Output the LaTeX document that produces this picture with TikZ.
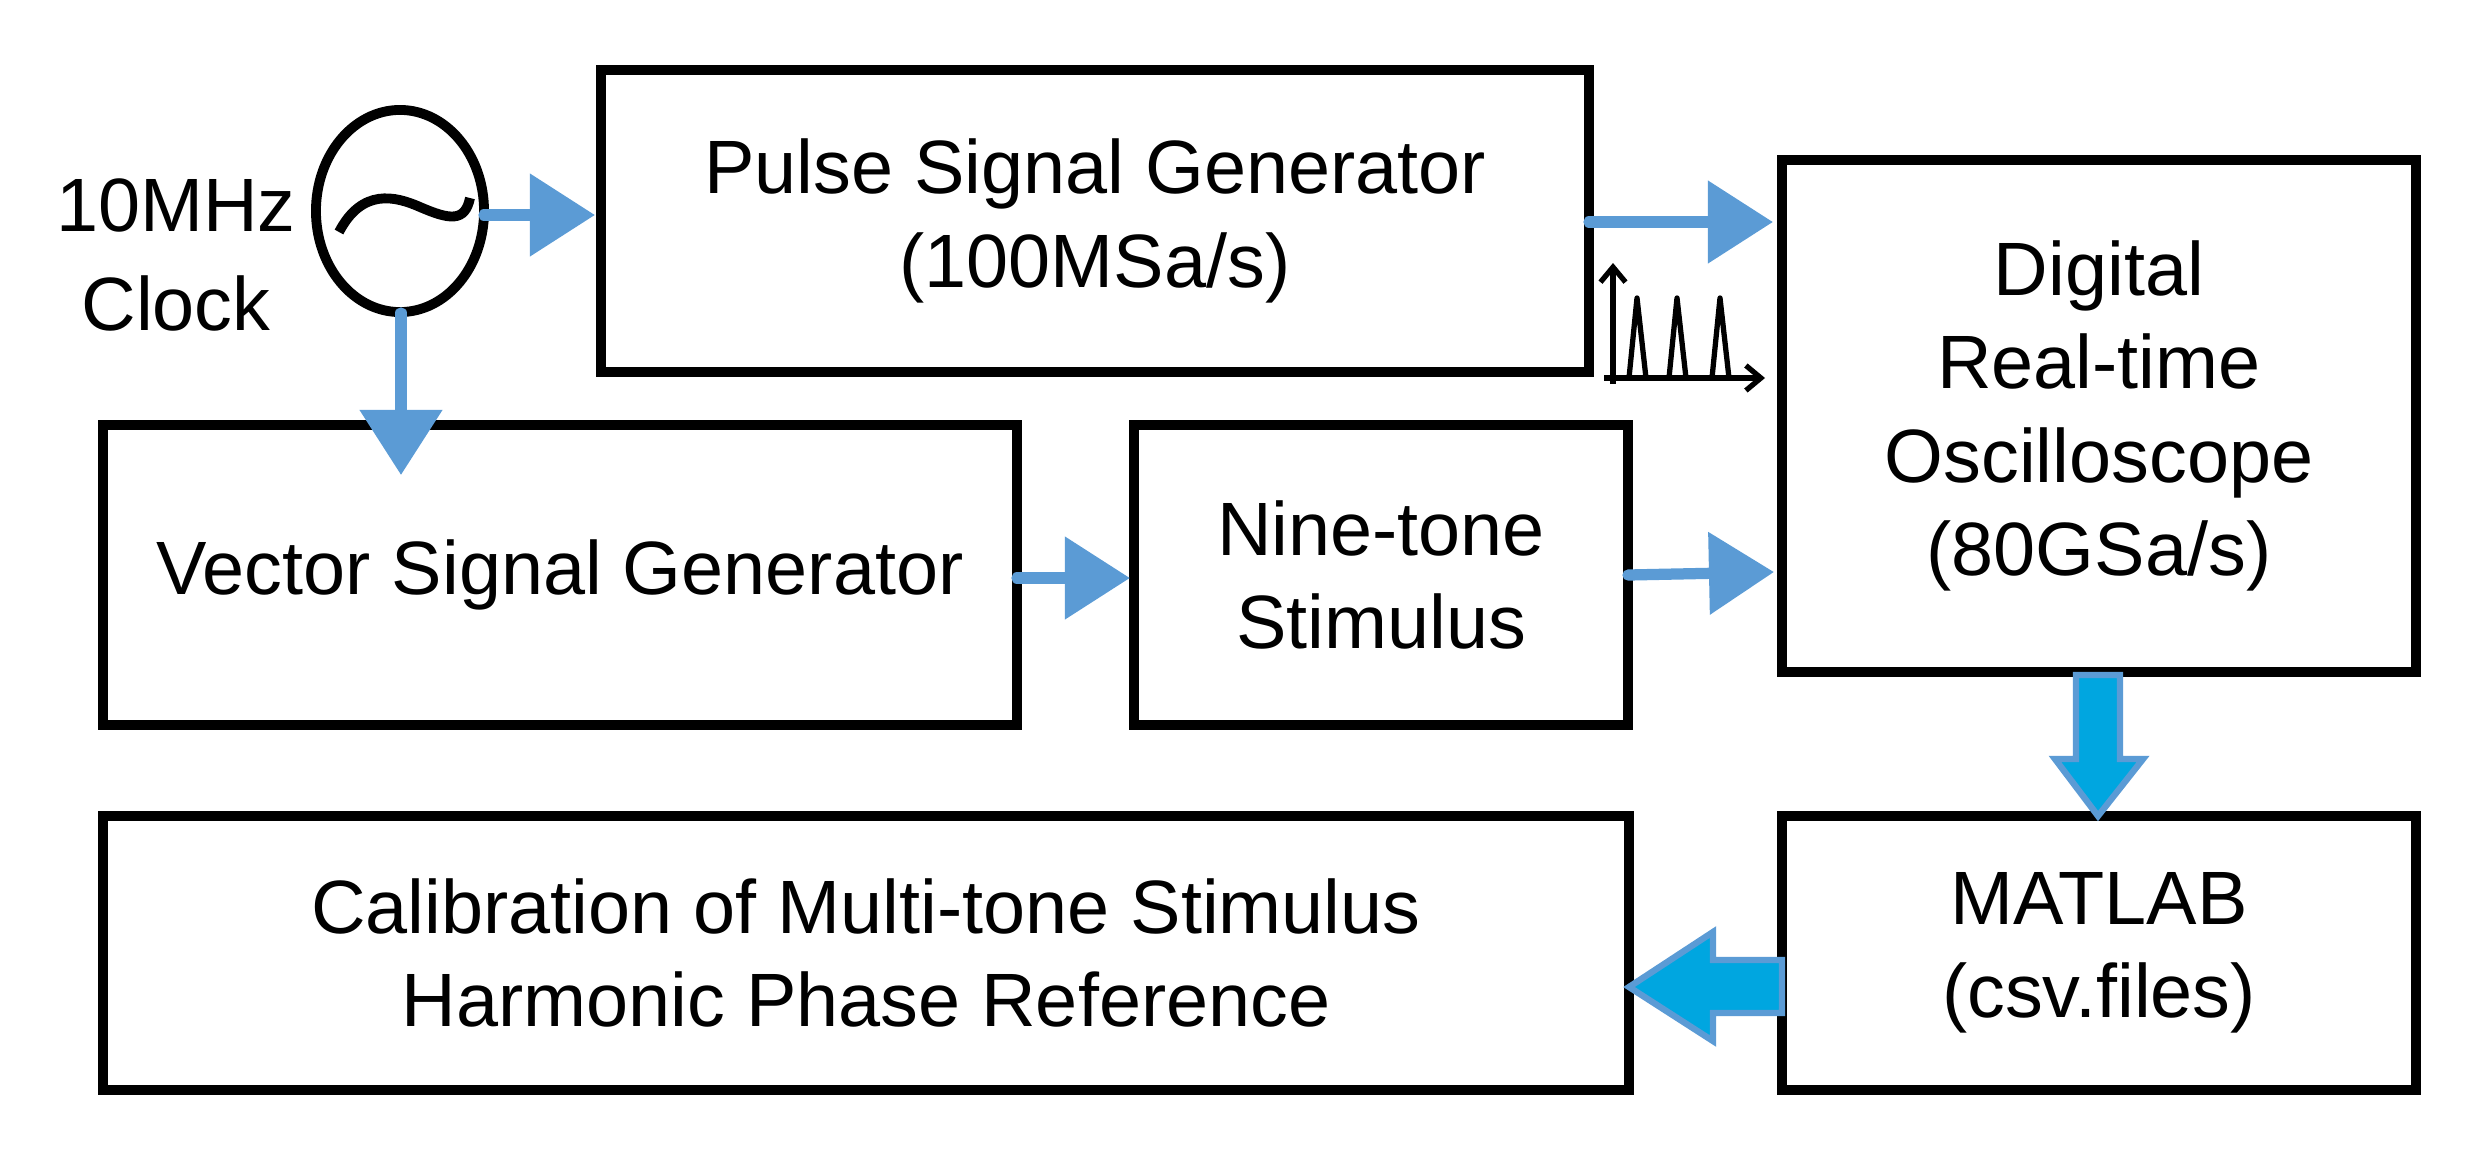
\documentclass[tikz,border=0pt]{standalone}
\usepackage{fontspec}
\setmainfont{Liberation Sans}
\usetikzlibrary{arrows.meta,shapes.geometric}
\definecolor{thin}{HTML}{5B9BD5}
\definecolor{fat}{HTML}{00A6E0}
\begin{document}
\begin{tikzpicture}[x=0.01cm,y=-0.01cm,
  box/.style={draw,line width=2.8pt,inner sep=0pt,font=\fontsize{21.5}{26.5}\selectfont,align=center},
  lbl/.style={font=\fontsize{21.5}{28}\selectfont,align=center},
  sig/.style={draw=thin,line width=3.2pt,line cap=round,-{Triangle[length=0.65cm,width=0.8cm]}},
  fatarrow/.style={fill=fat,draw=thin,line width=1.8pt}]
\useasboundingbox (0,0) rectangle (2484,1172);
\node[box,minimum width=9.87cm,minimum height=3.01cm] (psg) at (1095,221) {Pulse Signal Generator\\(100MSa/s)};
\node[box,minimum width=6.34cm,minimum height=5.12cm] (osc) at (2099,416) {Digital\\Real-time\\Oscilloscope\\(80GSa/s)};
\node[box,minimum width=9.14cm,minimum height=3.0cm] (vsg) at (560,575) {Vector Signal Generator};
\node[box,minimum width=4.94cm,minimum height=3.0cm] (nine) at (1381,575) {Nine-tone\\Stimulus};
\node[box,minimum width=6.34cm,minimum height=2.74cm] (mat) at (2099,953) {MATLAB\\(csv.files)};
\node[box,minimum width=15.25cm,minimum height=2.74cm] (cal) at (866,953) {Calibration of Multi-tone Stimulus\\Harmonic Phase Reference};
\node[draw,ellipse,line width=2.8pt,minimum width=1.68cm,minimum height=2.02cm,inner sep=0pt] (clk) at (400,211) {};
\node[lbl] (clklbl) at (176,255) {10MHz\\Clock};
\draw[line width=2.8pt] (339,232) .. controls (362,188) and (395,196) .. (420,207) .. controls (450,220) and (465,222) .. (470,198);
\coordinate (c1) at (484,215);
\coordinate (c1e) at (595,215);
\draw[sig] (c1) -- (c1e);
\coordinate (c2) at (401,313);
\coordinate (c2e) at (401,475);
\draw[sig] (c2) -- (c2e);
\coordinate (p1) at (1589,222);
\coordinate (p1e) at (1773,222);
\draw[sig] (p1) -- (p1e);
\coordinate (v1) at (1017,578);
\coordinate (v1e) at (1130,578);
\draw[sig] (v1) -- (v1e);
\coordinate (n1) at (1628,575);
\coordinate (n1e) at (1774,572);
\draw[sig] (n1) -- (n1e);
% pulse icon
\coordinate (ax0) at (1613,384);
\coordinate (axy) at (1613,263);
\coordinate (axx) at (1765,378);
\draw[line width=1.5pt,-{Straight Barb[length=0.15cm,width=0.25cm]}] (ax0) -- (axy);
\draw[line width=1.5pt,-{Straight Barb[length=0.15cm,width=0.25cm]}] (1604,378) -- (axx);
\draw[line width=1.5pt,line join=round] (1629,378) -- (1637,298) -- (1646,378);
\draw[line width=1.5pt,line join=round] (1669,378) -- (1677,298) -- (1686,378);
\draw[line width=1.5pt,line join=round] (1712,378) -- (1720,298) -- (1729,378);
% fat arrows
\draw[fatarrow] (2076,675) -- (2120,675) -- (2120,759) -- (2143,759) -- (2098,816) -- (2055,759) -- (2076,759) -- cycle;
\draw[fatarrow] (1782,960) -- (1782,1013) -- (1713,1013) -- (1713,1041) -- (1629,987) -- (1713,932) -- (1713,960) -- cycle;
\end{tikzpicture}
\end{document}
